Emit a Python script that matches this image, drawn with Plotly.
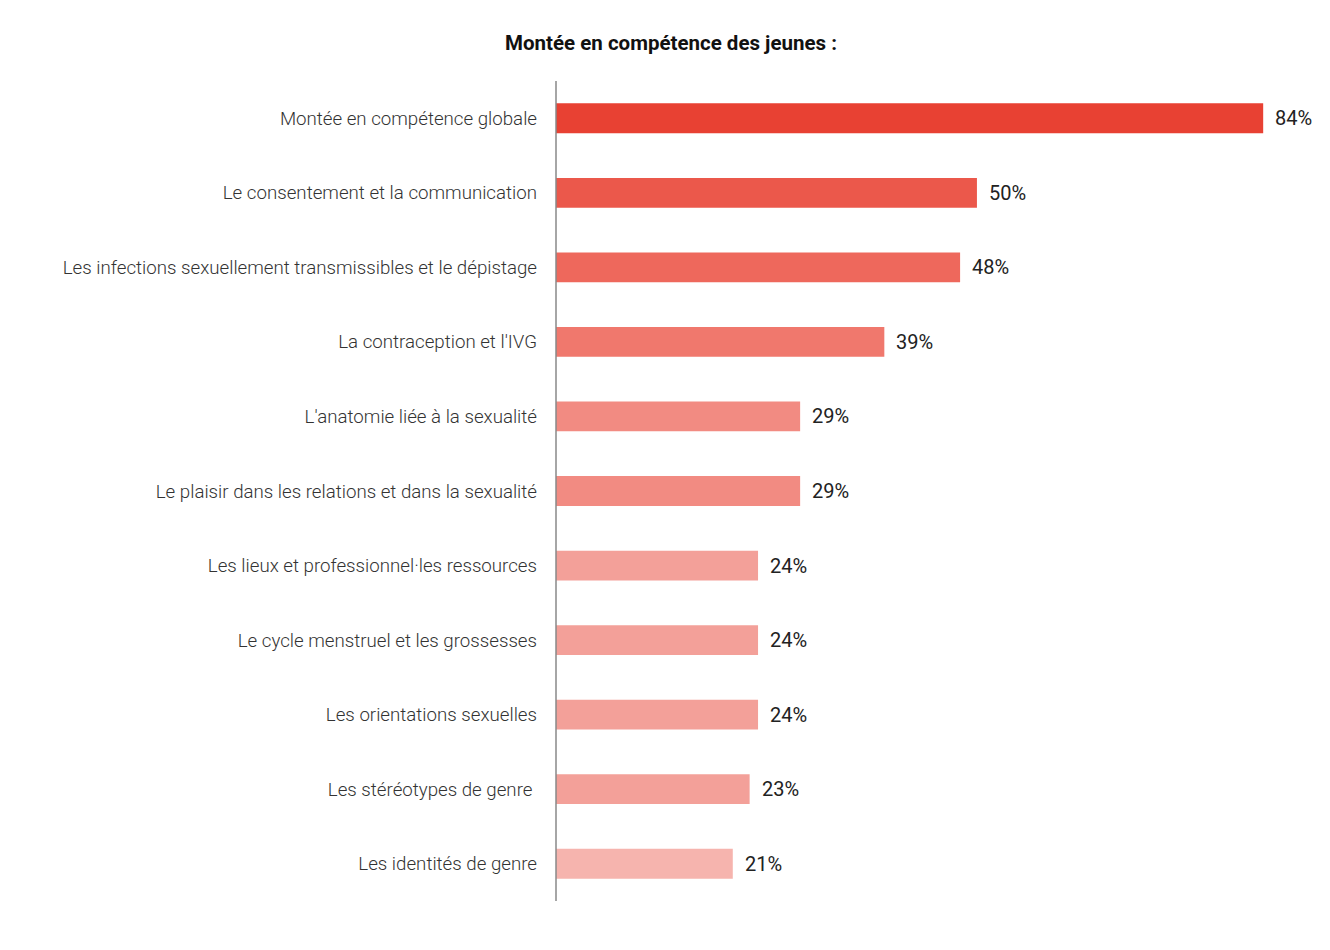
import plotly.graph_objects as go

categories = [
    "Montée en compétence globale",
    "Le consentement et la communication",
    "Les infections sexuellement transmissibles et le dépistage",
    "La contraception et l'IVG",
    "L'anatomie liée à la sexualité",
    "Le plaisir dans les relations et dans la sexualité",
    "Les lieux et professionnel·les ressources",
    "Le cycle menstruel et les grossesses",
    "Les orientations sexuelles",
    "Les stéréotypes de genre ",
    "Les identités de genre",
]
values = [84, 50, 48, 39, 29, 29, 24, 24, 24, 23, 21]
colors = ["#E84133", "#EB584B", "#EE685C", "#F0786D", "#F28B82", "#F28B82",
          "#F3A099", "#F3A099", "#F3A099", "#F3A099", "#F6B4AE"]
title = "Montée en compétence des jeunes :"

fig = go.Figure()
fig.add_trace(go.Bar(
    x=values, y=categories, orientation="h",
    marker=dict(color=colors, line=dict(width=0)),
    width=0.4, hoverinfo="skip",
))

for v, c in zip(values, categories):
    fig.add_annotation(x=v, y=c, text=f"{v}%", showarrow=False,
                       xanchor="left", xshift=10,
                       font=dict(family="Roboto", size=20, color="#222222"))

fig.update_layout(
    width=1330, height=950,
    margin=dict(l=548, r=10, t=73, b=57),
    paper_bgcolor="white", plot_bgcolor="white",
    showlegend=False,
    title=dict(text=f"<b>{title}</b>", x=0.4985, xanchor="center", y=0.963, yanchor="middle",
               font=dict(family="Roboto", size=20.5, color="#111111")),
    xaxis=dict(range=[0, 91.7], visible=False, fixedrange=True),
    yaxis=dict(autorange="reversed", showgrid=False, zeroline=False,
               showline=False, ticks="", ticklabelstandoff=18,
               tickfont=dict(family="Roboto", size=18.7, color="#333333", weight=300)),
    shapes=[
        dict(type="line", xref="paper", yref="paper", x0=0, x1=0, y0=0, y1=1,
             line=dict(color="#888888", width=1.5)),
    ],
)

fig.write_html("out.html")
